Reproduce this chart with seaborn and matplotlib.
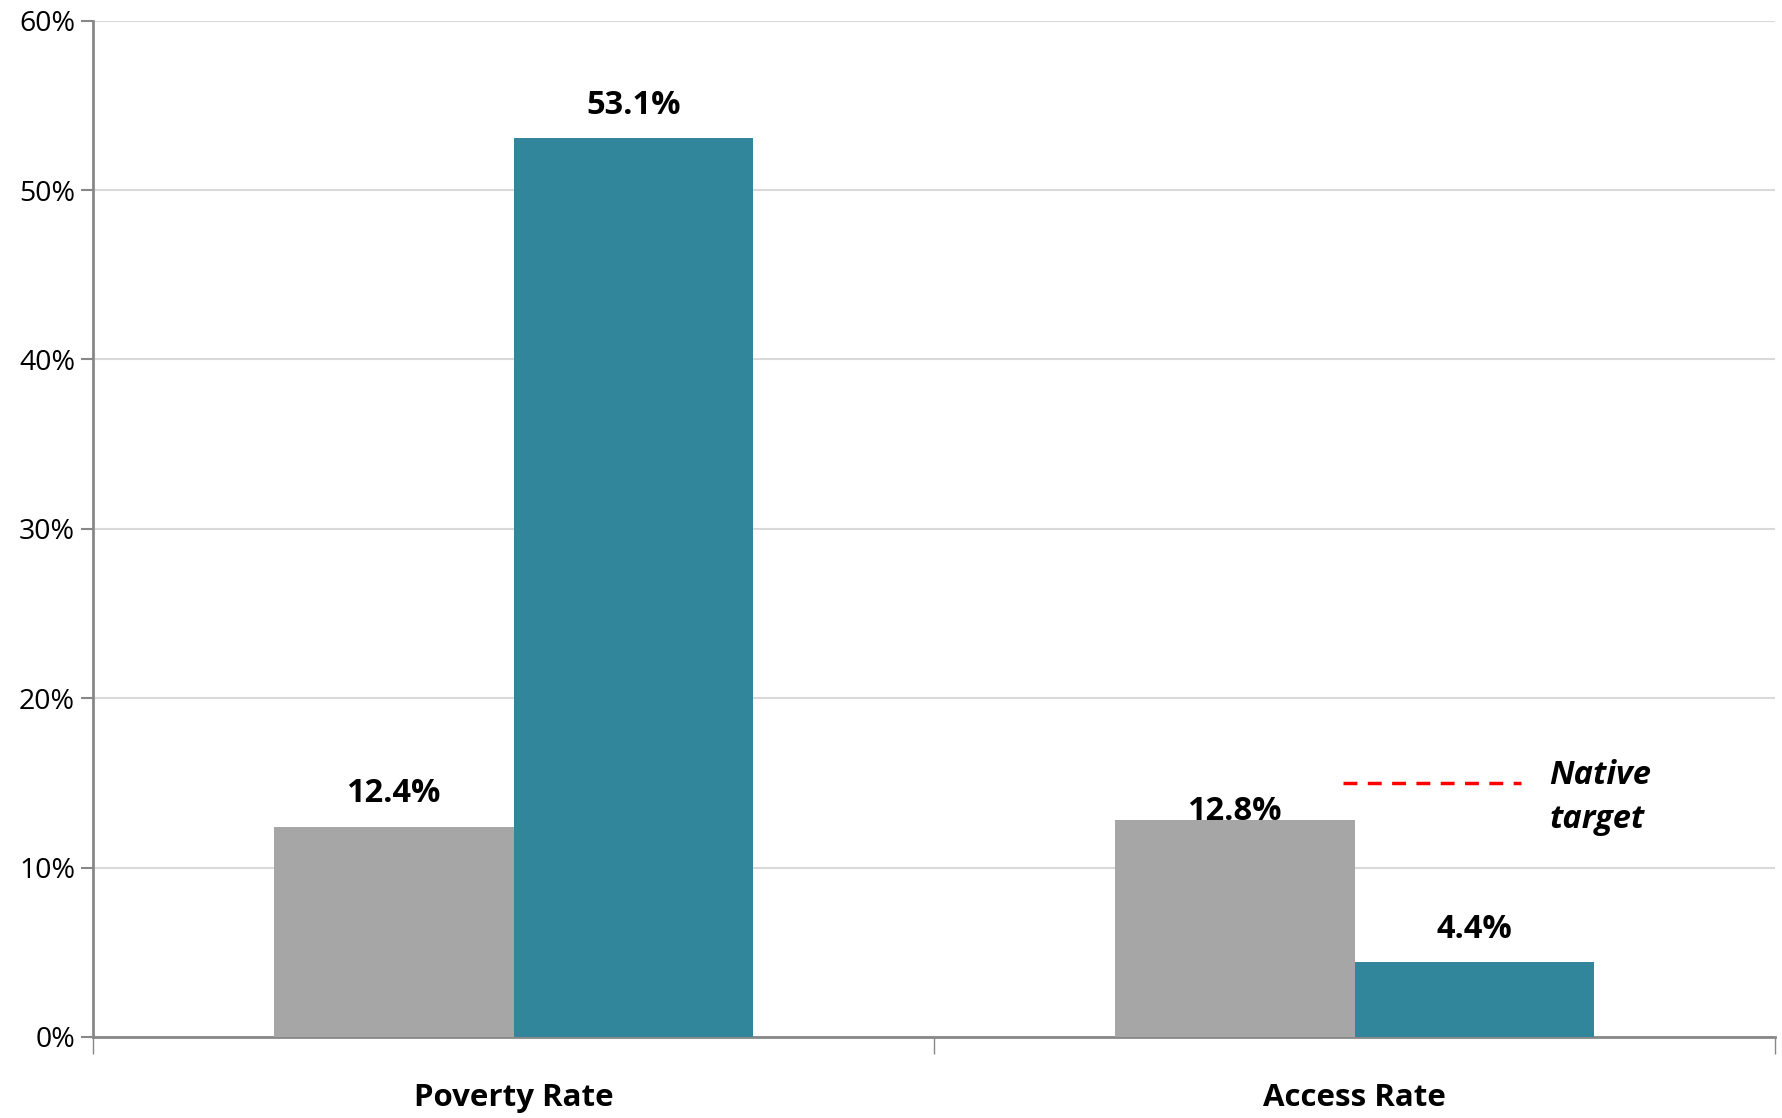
import matplotlib
matplotlib.use("Agg")
import matplotlib.pyplot as plt
import seaborn as sns
import pandas as pd
from matplotlib.ticker import FuncFormatter, FixedLocator

# ---- data ----
categories = ["Poverty Rate", "Access Rate"]
series_names = ["Overall", "Native"]
overall_values = [12.4, 12.8]
native_values = [53.1, 4.4]
target_value = 15.0
target_label = "Native\ntarget"
y_ticks = [0, 10, 20, 30, 40, 50, 60]

df = pd.DataFrame({
    "category": categories * 2,
    "series": [series_names[0]] * 2 + [series_names[1]] * 2,
    "value": overall_values + native_values,
})

sns.set_theme(style="white")
plt.rcParams["font.family"] = ["Open Sans", "DejaVu Sans"]
plt.rcParams["text.color"] = "black"

fig = plt.figure(figsize=(17.83, 11.18), dpi=100)
ax = fig.add_axes([0.0522, 0.0725, 0.9433, 0.909])

palette = {series_names[0]: "#A6A6A6", series_names[1]: "#31869B"}
sns.barplot(data=df, x="category", y="value", hue="series", order=categories,
            hue_order=series_names, palette=palette, width=0.57, saturation=1,
            linewidth=0, ax=ax, legend=False, zorder=3)

ax.set_xlim(-0.5, 1.5)
ax.set_ylim(0, 60)
ax.set_yticks(y_ticks)
ax.yaxis.set_major_formatter(FuncFormatter(lambda v, p: f"{v:.0f}%"))
ax.tick_params(axis="y", which="major", length=9, width=1.5, color="#888888",
               labelsize=20.5, labelcolor="black", pad=4, left=True, direction="out")
ax.grid(axis="y", color="#D9D9D9", linewidth=1.5, zorder=0)
ax.set_axisbelow(True)

# category boundaries as major ticks, category labels as minor ticks
ax.xaxis.set_major_locator(FixedLocator([-0.5, 0.5, 1.5]))
ax.xaxis.set_major_formatter(FuncFormatter(lambda v, p: ""))
ax.xaxis.set_minor_locator(FixedLocator([0, 1]))
ax.set_xticklabels(categories, minor=True, fontsize=22.5, fontweight="bold",
                   color="black")
ax.tick_params(axis="x", which="major", length=12, width=1, color="#888888",
               bottom=True, direction="out")
ax.tick_params(axis="x", which="minor", length=0, pad=33)
ax.set_xlabel("")
ax.set_ylabel("")

for s in ["top", "right"]:
    ax.spines[s].set_visible(False)
for s in ["left", "bottom"]:
    ax.spines[s].set_color("#888888")
    ax.spines[s].set_linewidth(2)

# value labels
label_offsets = {(0, 0): 24, (1, 0): 6, (0, 1): 23, (1, 1): 24}
for si, container in enumerate(ax.containers):
    for ci, bar in enumerate(container):
        h = bar.get_height()
        ax.annotate(f"{h:.1f}%", (bar.get_x() + bar.get_width() / 2, h),
                    xytext=(0, label_offsets[(ci, si)]), textcoords="offset points",
                    ha="center", va="center", fontsize=23.5, fontweight="bold",
                    color="black", zorder=5)

# native target line
ax.hlines(target_value, 0.986, 1.198, colors="#FF0000", linestyles=(0, (4, 3)),
          linewidth=2.5, zorder=4)
ax.text(1.232, target_value - 0.85, target_label, ha="left", va="center",
        fontsize=23.5, fontweight="bold", fontstyle="italic", linespacing=1.42,
        color="black")

fig.savefig("out.png", dpi=100)
